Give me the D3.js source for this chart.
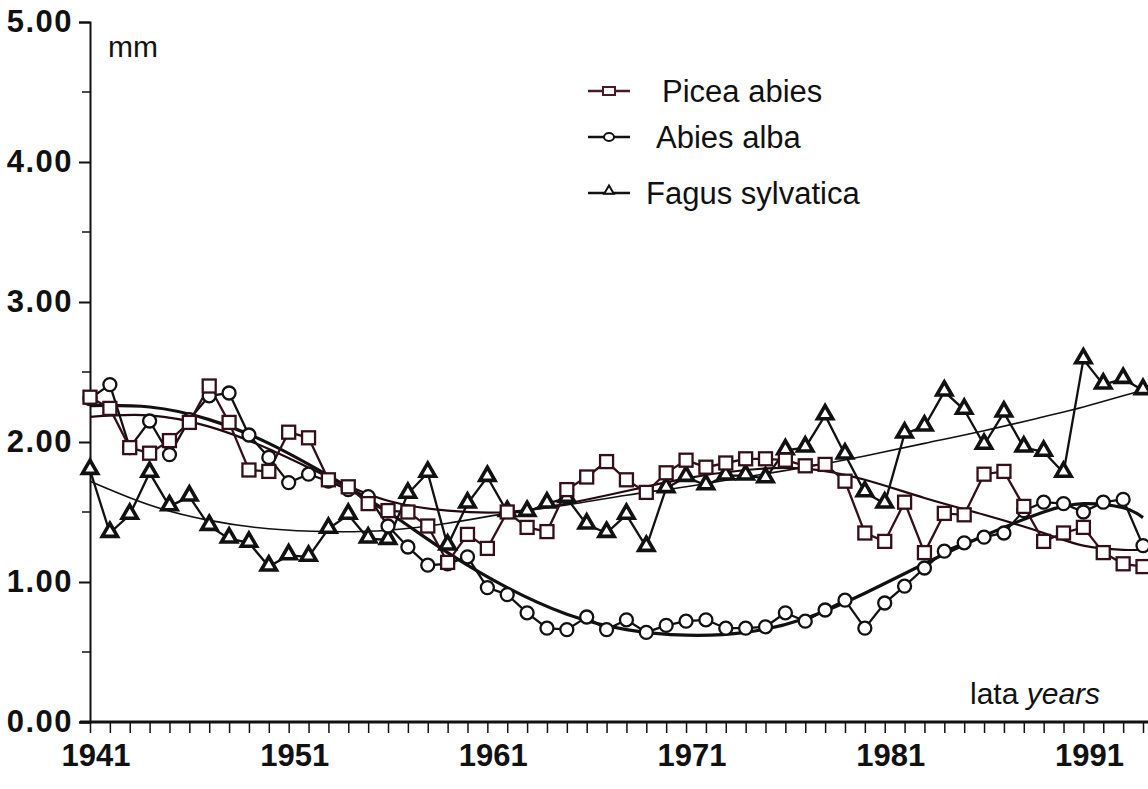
<!DOCTYPE html>
<html>
<head>
<meta charset="utf-8">
<script src="https://cdn.jsdelivr.net/npm/d3@7"></script>
<style>
  body { margin: 0; background: #fff; }
  text { font-family: Arial, "Liberation Sans", sans-serif; fill: #111; }
</style>
</head>
<body>
<div id="chart"></div>
<script>
/* global d3 */

const years = d3.range(1941, 1995);

// Picea abies (squares)
const piceaValues = [
  2.32, 2.24, 1.96, 1.92, 2.01, 2.14, 2.40, 2.14, 1.80, 1.79,
  2.07, 2.03, 1.73, 1.68, 1.56, 1.51, 1.50, 1.40, 1.14, 1.34,
  1.24, 1.50, 1.39, 1.36, 1.66, 1.75, 1.86, 1.73, 1.64, 1.78,
  1.87, 1.82, 1.85, 1.88, 1.88, 1.87, 1.83, 1.84, 1.72, 1.35,
  1.29, 1.57, 1.21, 1.49, 1.48, 1.77, 1.79, 1.54, 1.29, 1.35,
  1.39, 1.21, 1.13, 1.11,
];

// Abies alba (circles)
const abiesValues = [
  2.31, 2.41, 1.96, 2.15, 1.91, 2.16, 2.33, 2.35, 2.05, 1.89,
  1.71, 1.77, 1.72, 1.66, 1.61, 1.40, 1.25, 1.12, 1.13, 1.18,
  0.96, 0.91, 0.78, 0.67, 0.66, 0.75, 0.66, 0.73, 0.64, 0.69,
  0.72, 0.73, 0.67, 0.67, 0.68, 0.78, 0.72, 0.80, 0.87, 0.67,
  0.85, 0.97, 1.10, 1.22, 1.28, 1.32, 1.35, 1.51, 1.57, 1.56,
  1.50, 1.57, 1.59, 1.26,
];

// Fagus sylvatica (triangles)
const fagusValues = [
  1.80, 1.35, 1.48, 1.78, 1.54, 1.61, 1.40, 1.31, 1.28, 1.11,
  1.19, 1.18, 1.38, 1.48, 1.31, 1.30, 1.63, 1.78, 1.26, 1.56,
  1.75, 1.50, 1.50, 1.56, 1.60, 1.41, 1.35, 1.48, 1.25, 1.67,
  1.75, 1.69, 1.76, 1.76, 1.74, 1.94, 1.96, 2.19, 1.91, 1.64,
  1.56, 2.06, 2.11, 2.36, 2.23, 1.98, 2.21, 1.96, 1.93, 1.78,
  2.59, 2.41, 2.45, 2.37,
];

// trend curves, read at a few years
const trendYears = [1941, 1944, 1947, 1950, 1953, 1956, 1959, 1962, 1965, 1968,
  1971, 1974, 1977, 1980, 1983, 1986, 1989, 1991, 1993, 1994];
const piceaTrend = [2.18, 2.19, 2.11, 1.95, 1.75, 1.58, 1.51, 1.50, 1.56, 1.65,
  1.74, 1.80, 1.81, 1.73, 1.60, 1.48, 1.35, 1.26, 1.23, 1.23];
const abiesTrend = [2.26, 2.25, 2.16, 1.99, 1.76, 1.50, 1.21, 0.96, 0.77, 0.66,
  0.62, 0.64, 0.74, 0.92, 1.13, 1.33, 1.50, 1.56, 1.53, 1.46];
const fagusTrend = [1.72, 1.55, 1.44, 1.38, 1.36, 1.37, 1.42, 1.49, 1.55, 1.62,
  1.68, 1.75, 1.82, 1.90, 1.99, 2.08, 2.18, 2.25, 2.33, 2.37];

const yTicks = [0, 1, 2, 3, 4, 5];
const yMinorTicks = [0.5, 1.5, 2.5, 3.5, 4.5];
const xLabels = [1941, 1951, 1961, 1971, 1981, 1991];

const legendItems = ['Picea abies', 'Abies alba', 'Fagus sylvatica'];

const w = 1148;
const h = 789;
const piceaColor = '#331019';

const svg = d3.select('#chart')
  .append('svg')
  .attr('width', w)
  .attr('height', h);

svg.append('rect')
  .attr('width', w)
  .attr('height', h)
  .attr('fill', '#fff');

const x = d3.scaleLinear().domain([1941, 1994]).range([90, 1143]);
const y = d3.scaleLinear().domain([0, 5]).range([722, 22]);

function drawAxes() {
  // y axis
  const yAxis = d3.axisLeft(y)
    .tickValues(yTicks)
    .tickFormat(d3.format('.2f'))
    .tickSize(11)
    .tickPadding(6);
  const gy = svg.append('g')
    .attr('transform', `translate(${x(1941)},0)`)
    .call(yAxis);
  gy.select('.domain').attr('stroke', '#111').attr('stroke-width', 2);
  gy.selectAll('.tick line').attr('stroke', '#111').attr('stroke-width', 2);
  gy.selectAll('.tick text')
    .attr('font-size', 31)
    .attr('font-weight', 'bold')
    .attr('letter-spacing', 1.5)
    .attr('fill', '#111');

  svg.append('g')
    .selectAll('line')
    .data(yMinorTicks)
    .enter()
    .append('line')
    .attr('x1', x(1941) - 8)
    .attr('x2', x(1941))
    .attr('y1', (d) => y(d))
    .attr('y2', (d) => y(d))
    .attr('stroke', '#111')
    .attr('stroke-width', 1.5);

  // x axis
  const xAxis = d3.axisBottom(x)
    .tickValues(years)
    .tickFormat('')
    .tickSize(11);
  const gx = svg.append('g')
    .attr('transform', `translate(0,${y(0)})`)
    .call(xAxis);
  gx.select('.domain').attr('stroke', '#111').attr('stroke-width', 3)
    .attr('d', `M${x(1941) - 10},0H${w}`);
  gx.selectAll('.tick line').attr('stroke', '#111').attr('stroke-width', 1.5);

  svg.append('g')
    .selectAll('text')
    .data(xLabels)
    .enter()
    .append('text')
    .attr('x', (d) => x(d) + 6)
    .attr('y', 766)
    .attr('text-anchor', 'middle')
    .attr('font-size', 31)
    .attr('font-weight', 'bold')
    .text((d) => d);

  svg.append('text')
    .attr('x', 108)
    .attr('y', 57)
    .attr('font-size', 30)
    .text('mm');

  const unit = svg.append('text')
    .attr('x', 970)
    .attr('y', 704)
    .attr('font-size', 30);
  unit.append('tspan').text('lata ');
  unit.append('tspan').attr('font-style', 'italic').text('years');
}

function drawTrend(values, width, color) {
  const line = d3.line()
    .x((d, i) => x(trendYears[i]))
    .y((d) => y(d))
    .curve(d3.curveNatural);
  svg.append('path')
    .datum(values)
    .attr('d', line)
    .attr('fill', 'none')
    .attr('stroke', color)
    .attr('stroke-width', width);
}

function drawSeries(values, color) {
  const line = d3.line()
    .x((d, i) => x(years[i]))
    .y((d) => y(d));
  svg.append('path')
    .datum(values)
    .attr('d', line)
    .attr('fill', 'none')
    .attr('stroke', color)
    .attr('stroke-width', 2.3);
}

const triangle = d3.symbol().type(d3.symbolTriangle).size(100);

function drawMarkers(values, kind, color) {
  const g = svg.append('g');
  const sel = g.selectAll('.m')
    .data(values)
    .enter();
  if (kind === 'square') {
    sel.append('rect')
      .attr('x', (d, i) => x(years[i]) - 6.5)
      .attr('y', (d) => y(d) - 6.5)
      .attr('width', 13)
      .attr('height', 13)
      .attr('fill', '#fff')
      .attr('stroke', color)
      .attr('stroke-width', 2.3);
  } else if (kind === 'circle') {
    sel.append('circle')
      .attr('cx', (d, i) => x(years[i]))
      .attr('cy', (d) => y(d))
      .attr('r', 6.5)
      .attr('fill', '#fff')
      .attr('stroke', color)
      .attr('stroke-width', 2.3);
  } else {
    sel.append('path')
      .attr('transform', (d, i) => `translate(${x(years[i])},${y(d) - 1})`)
      .attr('d', triangle)
      .attr('fill', '#fff')
      .attr('stroke', color)
      .attr('stroke-width', 3.6)
      .attr('stroke-linejoin', 'miter');
  }
}

function drawLegend() {
  const rows = [
    { label: legendItems[0], kind: 'square', color: '#4a1826', y: 91, tx: 662 },
    { label: legendItems[1], kind: 'circle', color: '#111', y: 137, tx: 656 },
    { label: legendItems[2], kind: 'triangle', color: '#111', y: 193, tx: 646 },
  ];
  rows.forEach((r) => {
    svg.append('line')
      .attr('x1', 588)
      .attr('x2', 630)
      .attr('y1', r.y)
      .attr('y2', r.y)
      .attr('stroke', r.color)
      .attr('stroke-width', 2.5);
    if (r.kind === 'square') {
      svg.append('rect')
        .attr('x', 603).attr('y', r.y - 4)
        .attr('width', 12).attr('height', 8)
        .attr('fill', '#fff').attr('stroke', r.color).attr('stroke-width', 2);
    } else if (r.kind === 'circle') {
      svg.append('ellipse')
        .attr('cx', 609).attr('cy', r.y)
        .attr('rx', 5).attr('ry', 4)
        .attr('fill', '#fff').attr('stroke', r.color).attr('stroke-width', 2);
    } else {
      svg.append('path')
        .attr('transform', `translate(609,${r.y - 2})`)
        .attr('d', d3.symbol().type(d3.symbolTriangle).size(40))
        .attr('fill', '#fff').attr('stroke', r.color).attr('stroke-width', 2);
    }
    svg.append('text')
      .attr('x', r.tx)
      .attr('y', r.y + 11)
      .attr('font-size', 31)
      .text(r.label);
  });
}

function main() {
  drawAxes();

  drawTrend(fagusTrend, 1.6, '#111');
  drawTrend(piceaTrend, 2.2, '#22090f');
  drawTrend(abiesTrend, 3.2, '#111');

  drawSeries(fagusValues, '#111');
  drawSeries(abiesValues, '#111');
  drawSeries(piceaValues, piceaColor);

  drawMarkers(fagusValues, 'triangle', '#111');
  drawMarkers(abiesValues, 'circle', '#111');
  drawMarkers(piceaValues, 'square', piceaColor);

  drawLegend();
}

main();
</script>
</body>
</html>
